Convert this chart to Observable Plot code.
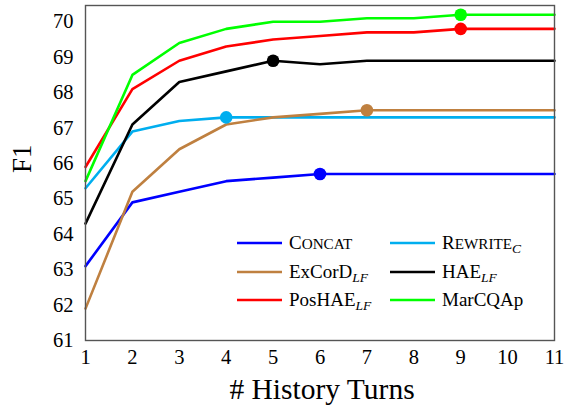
<!DOCTYPE html>
<html>
<head>
<meta charset="utf-8">
<script src="https://cdn.jsdelivr.net/npm/d3@7"></script>
<script src="https://cdn.jsdelivr.net/npm/@observablehq/plot@0.6"></script>
<style>
  html, body { margin: 0; padding: 0; background: white; }
  #wrap { position: relative; width: 573px; height: 410px; font-family: "Liberation Serif", serif; }
  #legend { position: absolute; left: 0; top: 0; width: 573px; height: 410px; pointer-events: none; }
  .item { position: absolute; display: flex; align-items: center; font-size: 19px; color: black; white-space: nowrap; }
  .item svg { margin-right: 7px; }
  .sm { font-size: 0.8em; }
  sub { font-style: italic; font-size: 13.5px; vertical-align: -4px; line-height: 0; }
</style>
</head>
<body>
<div id="wrap"></div>
<script>
const turns = [1, 2, 3, 4, 5, 6, 7, 8, 9, 10, 11];
const xTicks = [1, 2, 3, 4, 5, 6, 7, 8, 9, 10, 11];
const yTicks = [61, 62, 63, 64, 65, 66, 67, 68, 69, 70];

const seriesNames = ["Concat", "Rewrite", "ExCorD", "HAE", "PosHAE", "MarCQAp"];
const seriesColors = ["#0000ff", "#00aeef", "#bf8040", "#000000", "#ff0000", "#00ff00"];
const markerTurns = [6, 4, 7, 5, 9, 9];

const concat  = [63.1, 64.9, 65.2, 65.5, 65.6, 65.7, 65.7, 65.7, 65.7, 65.7, 65.7];
const rewrite = [65.3, 66.9, 67.2, 67.3, 67.3, 67.3, 67.3, 67.3, 67.3, 67.3, 67.3];
const excord  = [61.9, 65.2, 66.4, 67.1, 67.3, 67.4, 67.5, 67.5, 67.5, 67.5, 67.5];
const hae     = [64.3, 67.1, 68.3, 68.6, 68.9, 68.8, 68.9, 68.9, 68.9, 68.9, 68.9];
const poshae  = [65.9, 68.1, 68.9, 69.3, 69.5, 69.6, 69.7, 69.7, 69.8, 69.8, 69.8];
const marcqap = [65.5, 68.5, 69.4, 69.8, 70.0, 70.0, 70.1, 70.1, 70.2, 70.2, 70.2];

const allValues = [concat, rewrite, excord, hae, poshae, marcqap];

const data = allValues.flatMap((vals, i) =>
  vals.map((v, j) => ({ name: seriesNames[i], color: seriesColors[i], turn: turns[j], f1: v }))
);
const markers = allValues.map((vals, i) => ({
  name: seriesNames[i], color: seriesColors[i], turn: markerTurns[i], f1: vals[turns.indexOf(markerTurns[i])]
}));

const chart = Plot.plot({
  width: 573,
  height: 410,
  marginLeft: 85,
  marginRight: 19,
  marginTop: 5,
  marginBottom: 70,
  x: { domain: [1, 11] },
  y: { domain: [61, 70.46] },
  color: { type: "identity" },
  style: { fontFamily: "Liberation Serif, serif", fontSize: "20px", background: "white", color: "black" },
  marks: [
    Plot.axisY({ ticks: yTicks, tickSize: 0, tickPadding: 12, label: null, fontSize: 20.5 }),
    Plot.axisX({ ticks: xTicks, tickSize: 0, tickPadding: 9, label: null, fontSize: 20.5 }),
    Plot.line(data, { x: "turn", y: "f1", z: "name", stroke: "color", strokeWidth: 2.6 }),
    Plot.dot(markers, { x: "turn", y: "f1", fill: "color", r: 6.3 }),
    Plot.frame({ stroke: "#555", strokeWidth: 1.4 }),
    Plot.text(["# History Turns"], { frameAnchor: "bottom", dx: 2, dy: 58, fontSize: 29.5 }),
    Plot.text(["F1"], { frameAnchor: "left", dx: -63, rotate: -90, fontSize: 27 })
  ]
});
const wrap = document.getElementById("wrap");
wrap.appendChild(chart);

// legend
const legendLabels = [
  'C<span class="sm">ONCAT</span>',
  'R<span class="sm">EWRITE</span><sub>C</sub>',
  'ExCorD<sub>LF</sub>',
  'HAE<sub>LF</sub>',
  'PosHAE<sub>LF</sub>',
  'MarCQAp'
];
const legendOrder = [0, 1, 2, 3, 4, 5];
const legend = document.createElement("div");
legend.id = "legend";
const colX = [237, 390];
const rowY = [243, 272, 300];
legendOrder.forEach((si, k) => {
  const col = k % 2, row = Math.floor(k / 2);
  const item = document.createElement("div");
  item.className = "item";
  item.style.left = colX[col] + "px";
  item.style.top = (rowY[row] - 12) + "px";
  item.style.height = "24px";
  item.innerHTML = `<svg width="45" height="6"><line x1="0" x2="45" y1="3" y2="3" stroke="${seriesColors[si]}" stroke-width="2.6"/></svg><span>${legendLabels[si]}</span>`;
  legend.appendChild(item);
});
wrap.appendChild(legend);
</script>
</body>
</html>
